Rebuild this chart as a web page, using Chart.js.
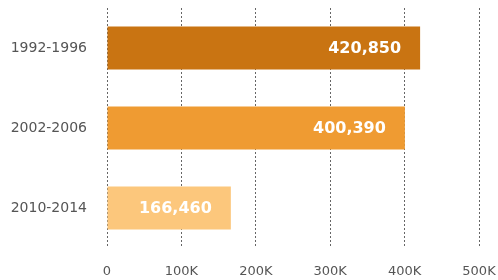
<!DOCTYPE html>
<html>
<head>
<meta charset="utf-8">
<script src="https://cdn.jsdelivr.net/npm/chart.js@4"></script>
<style>
  html, body { margin: 0; padding: 0; background: #fff; }
  #wrap { width: 498px; height: 280px; }
</style>
</head>
<body>
<div id="wrap"><canvas id="chart"></canvas></div>
<script>
// data
const periods = ['1992-1996', '2002-2006', '2010-2014'];
const counts = [420850, 400390, 166460];
const barColors = ['#c97412', '#ef9b32', '#fcc77c'];
const xTicks = [0, 100000, 200000, 300000, 400000, 500000];

// white value labels, right aligned inside each bar
const valueLabels = {
    id: 'valueLabels',
    afterDatasetsDraw(chart) {
        const ctx = chart.ctx;
        const meta = chart.getDatasetMeta(0);
        ctx.save();
        ctx.fillStyle = '#ffffff';
        ctx.font = 'bold 16px "DejaVu Sans"';
        ctx.textAlign = 'right';
        ctx.textBaseline = 'middle';
        meta.data.forEach((bar, i) => {
            ctx.fillText(counts[i].toLocaleString('en-US'), bar.x - 19, bar.y + 1);
        });
        ctx.restore();
    }
};

document.addEventListener('DOMContentLoaded', () => {
    const ctx = document.getElementById('chart').getContext('2d');

    new Chart(ctx, {
        type: 'bar',
        data: {
            labels: periods,
            datasets: [{
                data: counts,
                backgroundColor: barColors,
                borderWidth: 0,
                barPercentage: 0.54,
                categoryPercentage: 1
            }]
        },
        options: {
            indexAxis: 'y',
            responsive: true,
            maintainAspectRatio: false,
            animation: false,
            layout: { padding: { left: 10, top: 8, right: 0, bottom: 0 } },
            plugins: {
                legend: { display: false },
                tooltip: { enabled: false }
            },
            scales: {
                x: {
                    min: 0,
                    max: 500000,
                    afterBuildTicks: axis => { axis.ticks = xTicks.map(v => ({ value: v })); },
                    afterFit: axis => {
                        axis.height = 32;
                        axis.paddingLeft = 0;
                        axis.paddingRight = 19;
                    },
                    grid: { color: '#666', lineWidth: 1, drawTicks: false },
                    border: { display: false, dash: [2, 2] },
                    ticks: {
                        color: '#555',
                        font: { family: 'DejaVu Sans', size: 13 },
                        padding: 16,
                        callback: v => v === 0 ? '0' : (v / 1000) + 'K'
                    }
                },
                y: {
                    afterFit: axis => {
                        axis.width = 97;
                        axis.paddingTop = 0;
                        axis.paddingBottom = 0;
                    },
                    grid: { display: false, drawTicks: false },
                    border: { display: false },
                    ticks: {
                        color: '#555',
                        font: { family: 'DejaVu Sans', size: 14 },
                        padding: 20
                    }
                }
            }
        },
        plugins: [valueLabels]
    });
});
</script>
</body>
</html>
